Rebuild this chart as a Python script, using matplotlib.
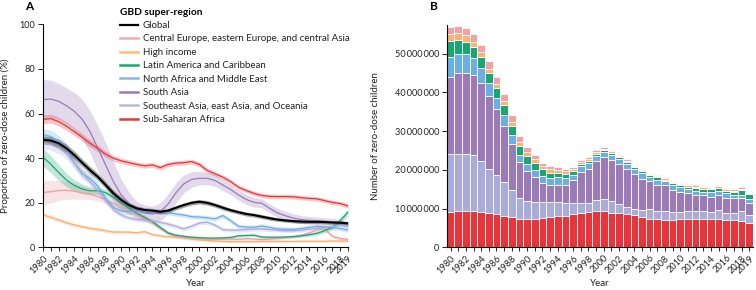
import matplotlib
matplotlib.use("Agg")
import matplotlib.pyplot as plt
from matplotlib.ticker import FuncFormatter

plt.rcParams['font.family'] = ['Lato', 'DejaVu Sans']

years = list(range(1980, 2020))

# panel A: proportion of zero-dose children (%), with half-widths of the uncertainty band
global_pct = [48.2, 47.9, 46.7, 44.4, 41.4, 38.0, 34.7, 31.7, 28.0, 24.3, 21.3, 19.0, 17.5, 16.8, 16.5, 16.0, 16.5, 17.8, 19.0, 20.0,
              20.5, 20.0, 19.0, 17.8, 16.7, 15.8, 15.0, 14.5, 13.8, 13.1, 12.5, 12.1, 11.8, 11.6, 11.5, 11.5, 11.4, 11.2, 11.1, 10.8]
cee_pct = [24.6, 25.0, 25.5, 25.6, 25.2, 24.6, 24.0, 22.8, 21.3, 19.8, 18.0, 16.5, 14.6, 13.0, 11.0, 8.5, 6.5, 5.0, 4.5, 4.2,
           4.0, 3.7, 3.6, 3.7, 3.8, 3.6, 4.0, 3.8, 3.6, 3.7, 4.0, 4.5, 4.8, 5.5, 6.5, 7.8, 8.5, 5.0, 4.0, 3.6]
hi_pct = [14.6, 13.5, 12.3, 11.1, 10.1, 9.3, 8.6, 8.1, 7.5, 6.9, 6.9, 6.9, 6.6, 7.1, 5.8, 5.2, 4.8, 4.6, 4.3, 3.8,
          3.4, 3.1, 2.9, 2.7, 2.6, 2.6, 2.6, 2.6, 2.7, 2.7, 2.7, 2.7, 2.7, 2.8, 2.8, 2.8, 2.8, 2.9, 2.9, 2.9]
lac_pct = [40.5, 37.3, 33.6, 30.2, 27.8, 26.2, 25.4, 25.4, 24.6, 22.4, 19.8, 17.5, 15.3, 13.5, 11.5, 9.0, 6.5, 5.5, 5.0, 4.6,
           4.4, 4.2, 4.2, 4.3, 4.5, 5.2, 5.4, 5.5, 4.7, 4.6, 4.6, 4.7, 4.9, 5.2, 5.7, 6.3, 7.5, 9.0, 12.0, 15.8]
name_pct = [50.6, 49.7, 47.6, 44.0, 38.0, 33.0, 31.0, 27.5, 22.0, 18.0, 16.3, 16.0, 16.6, 16.2, 16.0, 16.2, 15.6, 15.0, 14.5, 13.8,
            13.6, 13.3, 12.8, 14.3, 12.0, 9.5, 9.1, 9.1, 9.6, 9.0, 8.3, 8.2, 8.1, 8.5, 9.0, 9.5, 9.3, 9.0, 8.5, 7.8]
sa_pct = [66.2, 66.5, 65.5, 63.5, 61.0, 57.5, 52.0, 44.5, 37.0, 29.5, 23.5, 19.8, 16.5, 15.5, 15.0, 16.0, 19.5, 24.5, 28.5, 30.5,
          31.0, 31.0, 30.0, 28.0, 26.0, 23.5, 21.5, 20.2, 19.8, 17.5, 15.5, 14.2, 13.2, 12.5, 12.2, 12.0, 11.8, 11.5, 11.1, 10.2]
sea_pct = [47.0, 46.0, 44.5, 42.0, 38.0, 33.5, 29.5, 25.5, 21.0, 17.0, 14.5, 13.2, 12.5, 12.2, 11.8, 11.2, 10.5, 9.5, 8.3, 9.5,
           11.0, 11.3, 10.0, 8.0, 7.8, 7.8, 8.0, 8.3, 8.3, 8.0, 7.8, 7.5, 7.6, 7.8, 8.2, 8.6, 9.0, 9.4, 10.0, 9.6]
ssa_pct = [57.4, 57.7, 56.4, 54.4, 51.9, 49.4, 46.7, 44.4, 41.8, 40.0, 38.8, 38.0, 37.2, 36.6, 37.0, 35.8, 37.2, 37.8, 38.0, 38.5,
           37.2, 34.5, 33.0, 31.5, 29.5, 27.0, 25.5, 24.2, 23.3, 22.9, 22.8, 22.8, 22.7, 22.3, 22.0, 21.8, 21.0, 20.2, 19.7, 18.6]

global_hw = [1.8, 1.8, 1.8, 1.8, 1.8, 1.7, 1.7, 1.6, 1.5, 1.4, 1.3, 1.2, 1.1, 1.0, 1.0, 1.0, 1.0, 1.0, 1.0, 1.0,
             1.0, 1.0, 1.0, 1.0, 0.9, 0.9, 0.9, 0.9, 0.9, 0.9, 0.8, 0.8, 0.8, 0.8, 0.8, 0.8, 0.8, 0.8, 0.8, 0.8]
cee_hw = [5.5, 5.0, 4.5, 4.0, 3.5, 3.0, 2.5, 2.0, 1.6, 1.3, 1.2, 1.1, 1.0, 1.0, 1.0, 0.9, 0.8, 0.8, 0.7, 0.7,
          0.7, 0.7, 0.7, 0.7, 0.7, 0.7, 0.7, 0.7, 0.7, 0.7, 0.7, 0.7, 0.7, 0.7, 0.7, 0.8, 0.8, 0.8, 0.8, 0.8]
hi_hw = [0.9, 0.9, 0.9, 0.9, 0.8, 0.8, 0.8, 0.8, 0.8, 0.8, 0.7, 0.7, 0.7, 0.7, 0.7, 0.6, 0.6, 0.6, 0.6, 0.6,
         0.5, 0.5, 0.5, 0.5, 0.5, 0.5, 0.5, 0.5, 0.5, 0.5, 0.5, 0.5, 0.5, 0.5, 0.5, 0.5, 0.5, 0.5, 0.5, 0.5]
lac_hw = [4.0, 3.8, 3.5, 3.0, 2.6, 2.2, 1.8, 1.5, 1.3, 1.2, 1.2, 1.1, 1.1, 1.0, 1.0, 0.9, 0.8, 0.7, 0.7, 0.6,
          0.6, 0.6, 0.6, 0.6, 0.6, 0.6, 0.6, 0.6, 0.6, 0.6, 0.6, 0.6, 0.6, 0.6, 0.7, 0.8, 1.0, 1.2, 1.4, 1.6]
name_hw = [2.8, 2.8, 2.7, 2.6, 2.4, 2.2, 2.0, 1.8, 1.6, 1.5, 1.4, 1.3, 1.2, 1.2, 1.1, 1.1, 1.0, 1.0, 1.0, 1.0,
           1.0, 1.0, 1.0, 1.0, 1.0, 1.0, 1.0, 1.0, 1.0, 1.0, 1.0, 1.0, 1.0, 1.0, 1.0, 1.0, 1.0, 1.0, 1.0, 1.0]
sa_hw = [9.0, 8.5, 8.0, 8.0, 8.5, 9.0, 9.5, 10.0, 10.0, 9.0, 7.0, 5.0, 4.0, 3.5, 3.5, 4.0, 4.5, 4.5, 4.0, 3.5,
         3.0, 2.8, 2.6, 2.5, 2.4, 2.3, 2.2, 2.1, 2.0, 2.0, 2.0, 2.0, 1.9, 1.8, 1.7, 1.6, 1.5, 1.5, 1.4, 1.4]
sea_hw = [2.5, 2.5, 2.4, 2.3, 2.2, 2.0, 1.8, 1.6, 1.4, 1.2, 1.0, 1.0, 1.0, 1.0, 1.0, 1.0, 1.0, 1.0, 1.0, 1.0,
          1.0, 1.0, 0.9, 0.9, 0.9, 0.9, 0.9, 0.9, 0.9, 0.9, 0.8, 0.8, 0.8, 0.8, 0.8, 0.8, 0.8, 0.8, 0.8, 0.8]
ssa_hw = [2.0, 2.0, 2.0, 1.9, 1.8, 1.7, 1.6, 1.5, 1.4, 1.3, 1.2, 1.2, 1.1, 1.1, 1.1, 1.1, 1.1, 1.1, 1.1, 1.1,
          1.1, 1.1, 1.0, 1.0, 1.0, 1.0, 1.0, 1.0, 1.0, 1.0, 1.0, 1.0, 1.0, 1.0, 1.0, 1.0, 1.0, 1.0, 1.0, 1.0]

# panel B: number of zero-dose children (millions) by super-region
ssa_n = [9.1, 9.4, 9.4, 9.3, 9.1, 8.8, 8.6, 8.1, 7.7, 7.4, 7.4, 7.4, 7.5, 7.7, 8.0, 8.0, 8.5, 8.9, 9.1, 9.5,
         9.5, 8.9, 8.8, 8.6, 8.3, 7.9, 7.4, 7.2, 7.1, 7.1, 7.2, 7.2, 7.4, 7.4, 7.4, 7.4, 7.1, 7.1, 6.9, 6.4]
sea_n = [15.1, 14.8, 14.7, 14.4, 13.3, 11.3, 10.0, 8.8, 7.1, 5.3, 4.6, 4.3, 4.2, 4.0, 3.7, 3.4, 3.0, 2.6, 2.4, 2.7,
         2.9, 3.0, 2.4, 1.9, 1.7, 1.7, 2.4, 2.3, 2.2, 2.0, 1.9, 2.1, 1.9, 2.1, 1.7, 2.2, 1.8, 1.8, 2.6, 1.9]
sa_n = [19.8, 20.7, 20.8, 20.7, 20.1, 18.9, 17.0, 14.4, 11.9, 9.3, 7.8, 6.5, 5.0, 4.3, 4.5, 4.8, 5.9, 7.9, 8.8, 10.2,
        10.8, 10.6, 10.3, 9.8, 8.9, 8.1, 7.2, 6.7, 6.7, 5.7, 5.3, 4.6, 4.3, 3.9, 4.0, 3.8, 3.7, 3.7, 3.1, 3.1]
name_n = [5.2, 5.0, 5.0, 4.4, 3.9, 3.5, 2.9, 2.8, 2.2, 1.9, 1.7, 1.7, 1.7, 1.9, 1.9, 1.7, 1.3, 1.6, 1.4, 1.2,
          1.4, 1.4, 1.2, 1.2, 1.2, 1.4, 1.1, 1.2, 1.0, 1.2, 1.1, 1.1, 1.0, 1.0, 1.2, 1.2, 1.3, 0.8, 1.0, 1.0]
lac_n = [4.1, 3.6, 3.2, 3.0, 2.8, 2.4, 2.6, 2.5, 2.4, 2.2, 2.1, 1.9, 1.7, 1.4, 1.2, 1.0, 0.9, 0.5, 0.5, 0.6,
         0.5, 0.5, 0.5, 0.5, 0.5, 0.5, 0.5, 0.7, 0.5, 0.5, 0.5, 0.6, 0.7, 0.7, 0.7, 0.7, 0.7, 1.0, 1.2, 1.4]
hi_n = [1.7, 1.7, 1.6, 1.3, 1.2, 1.2, 1.0, 1.2, 1.0, 1.2, 1.0, 1.1, 0.9, 1.0, 0.6, 0.7, 0.5, 0.5, 0.5, 0.4,
        0.4, 0.4, 0.4, 0.4, 0.4, 0.3, 0.3, 0.3, 0.4, 0.3, 0.3, 0.4, 0.3, 0.4, 0.3, 0.5, 0.4, 0.2, 0.3, 0.3]
cee_n = [1.9, 1.9, 1.9, 1.9, 1.9, 1.9, 1.9, 1.8, 1.8, 1.4, 1.4, 1.0, 0.7, 0.7, 0.7, 0.5, 0.5, 0.5, 0.5, 0.5,
         0.3, 0.3, 0.3, 0.3, 0.3, 0.4, 0.4, 0.3, 0.3, 0.4, 0.4, 0.3, 0.4, 0.3, 0.3, 0.4, 0.3, 0.4, 0.4, 0.3]

labels = ['Global', 'Central Europe, eastern Europe, and central Asia', 'High income',
          'Latin America and Caribbean', 'North Africa and Middle East', 'South Asia',
          'Southeast Asia, east Asia, and Oceania', 'Sub-Saharan Africa']
colors = ['#000000', '#f29ca2', '#fcae6b', '#1aa673', '#6aaee2', '#9a7bb8', '#a9acd9', '#e8353b']
pct = [global_pct, cee_pct, hi_pct, lac_pct, name_pct, sa_pct, sea_pct, ssa_pct]
hws = [global_hw, cee_hw, hi_hw, lac_hw, name_hw, sa_hw, sea_hw, ssa_hw]
counts = [None, cee_n, hi_n, lac_n, name_n, sa_n, sea_n, ssa_n]

fig = plt.figure(figsize=(7.56, 2.9), dpi=100)
ax_a = fig.add_axes([0.0569, 0.1466, 0.4034, 0.7697])
ax_b = fig.add_axes([0.5909, 0.1472, 0.4052, 0.7683])

# ---- panel A
order = [2, 1, 3, 4, 6, 5, 7, 0]
for i in order:
    lo = [v - h for v, h in zip(pct[i], hws[i])]
    hi = [v + h for v, h in zip(pct[i], hws[i])]
    ax_a.fill_between(years, lo, hi, color=colors[i], alpha=0.28 if i else 0.35, lw=0)
    ax_a.plot(years, pct[i], color=colors[i], lw=1.5 if i == 0 else 0.9)

leg_handles = [plt.Line2D([], [], color=colors[i], lw=1.6 if i == 0 else 1.8,
                          alpha=1 if i in (0, 3, 5, 7) else 0.85) for i in range(8)]
leg = ax_a.legend(leg_handles, labels, title='GBD super-region', loc='upper left',
                  bbox_to_anchor=(0.252, 1.075), frameon=False, fontsize=7,
                  title_fontsize=7.3, handlelength=1.9, handletextpad=0.45,
                  labelspacing=0.46, borderaxespad=0, borderpad=0, alignment='left')
leg.get_title().set_fontweight('bold')
for t in leg.get_texts():
    t.set_color('#222222')

ax_a.set_xlim(1980, 2019)
ax_a.set_ylim(0, 100)
ax_a.set_yticks([0, 20, 40, 60, 80, 100])
ax_a.set_ylabel('Proportion of zero-dose children (%)', fontsize=7, color='#222222')
ax_a.yaxis.set_label_coords(-0.108, 0.5)

# ---- panel B
bottom = [0.0] * len(years)
for i in [7, 6, 5, 4, 3, 2, 1]:
    vals = [v * 1e6 for v in counts[i]]
    ax_b.bar(years, vals, bottom=bottom, width=1.0, color=colors[i],
             edgecolor='#ffffff', linewidth=0.6, alpha=0.95 if i in (1, 2) else 1)
    bottom = [b + v for b, v in zip(bottom, vals)]

ax_b.set_xlim(1979.5, 2019.5)
ax_b.set_ylim(0, 57.5e6)
ax_b.set_yticks([0, 10e6, 20e6, 30e6, 40e6, 50e6])
ax_b.yaxis.set_major_formatter(FuncFormatter(lambda v, p: f"{int(v):,}".replace(',', '\u2009')))
ax_b.set_ylabel('Number of zero-dose children', fontsize=7, color='#222222')
ax_b.yaxis.set_label_coords(-0.218, 0.5)

for ax in (ax_a, ax_b):
    ax.spines['top'].set_visible(False)
    ax.spines['right'].set_visible(False)
    ax.spines['left'].set_linewidth(0.8)
    ax.spines['bottom'].set_linewidth(0.8)
    ax.set_xticks(years)
    ax.set_xticklabels([str(y) if (y % 2 == 0 or y == 2019) else '' for y in years],
                       rotation=45, ha='right', rotation_mode='anchor')
    ax.tick_params(axis='both', labelsize=6.6, colors='#222222', width=0.7, length=3, pad=1.5)
    ax.tick_params(axis='y', length=3.5, pad=2)
    ax.set_xlabel('Year', fontsize=7, color='#222222')
    ax.xaxis.set_label_coords(0.5, -0.14)

fig.text(0.038, 0.976, 'A', fontsize=8.5, fontweight='bold', ha='center', va='center')
fig.text(0.574, 0.976, 'B', fontsize=8.5, fontweight='bold', ha='center', va='center')

fig.savefig('out.png', dpi=100)
